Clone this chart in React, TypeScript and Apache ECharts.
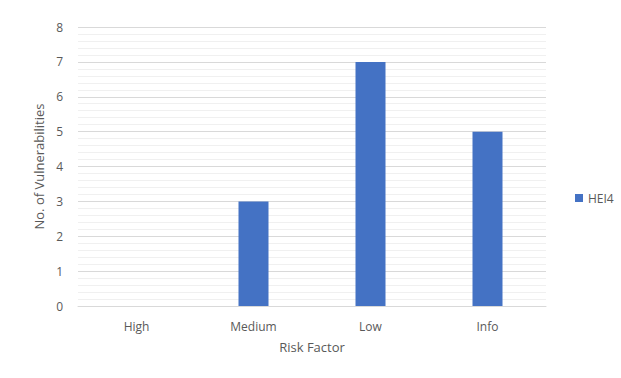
import React, { useEffect, useRef } from "react";
import * as echarts from "echarts";

const categories = ["High", "Medium", "Low", "Info"];
const hei4Values = [0, 3, 7, 5];
const seriesName = "HEI4";

export default function App() {
  const ref = useRef<HTMLDivElement>(null);

  useEffect(() => {
    if (!ref.current) return;
    const chart = echarts.init(ref.current, undefined, { renderer: "svg" });
    const font = "Open Sans, Liberation Sans, sans-serif";
    chart.setOption({
      animation: false,
      backgroundColor: "#ffffff",
      textStyle: { fontFamily: font, color: "#595959" },
      grid: { left: 78, right: 75, top: 27, bottom: 72 },
      legend: {
        orient: "vertical",
        left: 570,
        top: 187,
        itemWidth: 8,
        itemHeight: 8,
        itemGap: 4,
        icon: "rect",
        textStyle: { fontFamily: font, fontSize: 12, color: "#595959" },
        data: [seriesName],
      },
      xAxis: {
        type: "category",
        data: categories,
        name: "Risk Factor",
        nameLocation: "middle",
        nameGap: 34,
        nameTextStyle: { fontFamily: font, fontSize: 13, color: "#595959" },
        axisLine: { lineStyle: { color: "#d9d9d9" } },
        axisTick: { show: false },
        axisLabel: { fontFamily: font, fontSize: 12, color: "#595959", margin: 14 },
      },
      yAxis: {
        type: "value",
        min: 0,
        max: 8,
        interval: 1,
        name: "No. of Vulnerabilities",
        nameLocation: "middle",
        nameGap: 29,
        nameTextStyle: { fontFamily: font, fontSize: 13, color: "#595959" },
        axisLine: { show: false },
        axisTick: { show: false },
        axisLabel: { fontFamily: font, fontSize: 12, color: "#595959", margin: 15 },
        splitLine: { lineStyle: { color: "#d9d9d9", width: 1 } },
        minorTick: { show: false, splitNumber: 5 },
        minorSplitLine: { show: true, lineStyle: { color: "#f0f0f0", width: 1 } },
      },
      series: [
        {
          name: seriesName,
          type: "bar",
          data: hei4Values,
          barWidth: 30,
          itemStyle: { color: "#4472C4" },
        },
      ],
    });
    return () => chart.dispose();
  }, []);

  return (
    <div
      ref={ref}
      style={{ position: "fixed", left: 0, top: 0, width: 621, height: 378 }}
    />
  );
}
